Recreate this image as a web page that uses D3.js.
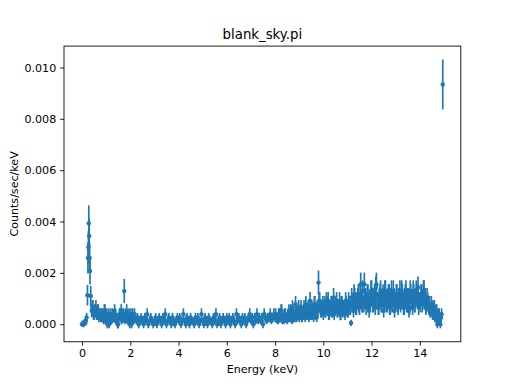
<!DOCTYPE html>
<html><head><meta charset="utf-8">
<script src="https://cdn.jsdelivr.net/npm/d3@7"></script>
<style>body{margin:0;background:#fff}svg{display:block}</style>
</head><body><svg id="c" width="512" height="384"></svg>
<script>
// Channel energies (keV) - main channels
const energy = [
 0.00,0.04,0.07,0.10,0.13,0.16,0.19,
 0.225,0.245,0.265,0.28,0.295,0.315,0.33,0.36,
 0.40,0.45,0.50,0.55,0.60,0.65,0.70,0.75,
 0.80,0.85,0.90,0.95,1.00,1.05,1.10,1.15,1.20,1.25,1.30,1.35,1.40,1.45,1.50,1.55,1.60,1.65,1.70,
 1.75,
 1.80,1.85,1.90,1.95,2.00,2.05,2.10,2.15,2.20,
 2.25,2.30,2.35,2.40,2.45,2.50,2.55,2.60,2.65,2.70,
 2.75,2.80,2.85,2.90,2.95,3.00,3.05,3.10,3.15,3.20,
 3.25,3.30,3.35,3.40,3.45,3.50,3.55,3.60,3.65,3.70,
 3.75,3.80,3.85,3.90,3.95,4.00,4.05,4.10,4.15,4.20,
 4.25,4.30,4.35,4.40,4.45,4.50,4.55,4.60,4.65,4.70,
 4.75,4.80,4.85,4.90,4.95,5.00,5.05,5.10,5.15,5.20,
 5.25,5.30,5.35,5.40,5.45,5.50,5.55,5.60,5.65,5.70,
 5.75,5.80,5.85,5.90,5.95,6.00,6.05,6.10,6.15,6.20,
 6.25,6.30,6.35,6.40,6.45,6.50,6.55,6.60,6.65,6.70,
 6.75,6.80,6.85,6.90,6.95,7.00,7.05,7.10,7.15,7.20,
 7.25,7.30,7.35,7.40,7.45,7.50,7.55,7.60,7.65,7.70,
 7.75,7.80,7.85,7.90,7.95,8.00,
 8.05,8.10,8.15,8.20,8.25,8.30,8.35,8.40,8.45,8.50,
 8.55,8.60,8.65,8.70,8.75,8.80,8.85,8.90,8.95,9.00,
 9.05,9.10,9.15,9.20,9.25,9.30,9.35,9.40,9.45,9.50,
 9.55,9.60,9.65,9.70,9.75,
 9.80,
 9.85,9.90,9.95,10.00,10.05,10.10,10.15,10.20,10.25,10.30,
 10.35,10.40,10.45,10.50,10.55,10.60,10.65,10.70,10.75,10.80,
 10.85,10.90,10.95,11.00,11.05,11.10,
 11.15,
 11.20,11.25,11.30,11.35,11.40,11.45,11.50,11.55,11.60,11.65,
 11.70,11.75,11.80,11.85,11.90,11.95,12.00,12.05,12.10,12.15,
 12.20,12.25,12.30,12.35,12.40,12.45,12.50,12.55,12.60,12.65,
 12.70,12.75,12.80,12.85,12.90,12.95,13.00,13.05,13.10,13.15,
 13.20,13.25,13.30,13.35,13.40,13.45,13.50,13.55,13.60,13.65,
 13.70,13.75,13.80,13.85,13.90,13.95,14.00,14.05,14.10,14.15,
 14.20,14.25,14.30,14.35,
 14.40,14.45,14.50,14.55,14.60,14.65,14.70,14.75,14.80,14.85,14.90,
 14.95
];
// Rate, counts/sec/keV, in units of 1e-4
const rateE4 = [
 0.0,0.5,0.0,1.0,0.4,1.3,2.6,
 11.3,25.8,30.0,39.3,34.4,25.8,20.7,11.0,
 5.2,6.5,3.9,5.2,3.9,5.2,2.6,3.9,
 2.6,3.9,1.3,5.2,2.6,0,3.9,2.6,1.3,3.9,2.6,5.2,1.3,2.6,0,3.9,2.6,1.3,3.9,
 12.9,
 2.6,5.2,1.3,3.9,2.6,0,3.9,1.3,2.6,
 1.3,2.6,0,1.3,2.6,1.3,0,2.6,1.3,3.9,
 0,1.3,2.6,1.3,0,1.3,2.6,0,1.3,2.6,
 1.3,0,2.6,1.3,3.9,0,1.3,2.6,1.3,0,
 2.6,1.3,0,1.3,2.6,1.3,2.6,0,1.3,3.9,
 1.3,0,2.6,1.3,0,2.6,1.3,1.3,0,2.6,
 1.3,2.6,0,1.3,3.9,1.3,0,2.6,1.3,0,
 2.6,1.3,1.3,0,2.6,1.3,3.9,0,1.3,2.6,
 0,1.3,2.6,1.3,0,2.6,1.3,2.6,0,1.3,
 2.6,1.3,0,3.9,1.3,2.6,1.3,0,2.6,1.3,
 2.6,0,1.3,2.6,3.9,1.3,2.6,0,2.6,1.3,
 3.9,1.3,2.6,1.3,2.6,0,3.9,2.6,1.3,2.6,
 2.6,3.9,1.3,2.6,3.9,2.6,
 2.6,1.3,3.9,2.6,5.2,1.3,2.6,3.9,2.6,1.3,
 3.9,2.6,5.2,1.3,3.9,2.6,7.8,2.6,3.9,2.6,
 5.2,2.6,3.9,6.5,2.6,3.9,5.2,2.6,9.1,3.9,
 5.2,2.6,7.8,3.9,6.5,
 16.2,
 9.1,5.2,6.5,3.9,7.8,5.2,6.5,9.1,3.9,6.5,
 5.2,7.8,3.9,6.5,9.1,5.2,6.5,3.9,7.8,5.2,
 6.5,3.9,7.8,5.2,9.1,6.5,
 0.5,
 7.8,5.2,10.4,6.5,9.1,11.7,6.5,15.6,7.8,7.8,
 15.6,10.4,7.8,11.7,5.2,9.1,13.0,7.8,10.4,6.5,
 15.6,9.1,6.5,11.7,7.8,10.4,5.2,13.0,9.1,7.8,
 11.7,6.5,10.4,7.8,13.0,5.2,9.1,11.7,6.5,10.4,
 7.8,13.0,9.1,6.5,11.7,7.8,10.4,5.2,13.0,9.1,
 6.5,11.7,7.8,13.0,10.4,6.5,9.1,11.7,7.8,13.0,
 9.1,6.5,10.4,7.8,
 7.8,5.2,6.5,3.9,6.5,2.6,5.2,1.3,3.9,0,3.9,
 93.4
];
// 1-sigma error, counts/sec/keV, in units of 1e-4
const errE4 = [
 1.0,0.9,1.2,1.1,1.0,1.0,1.8,
 4.0,6.0,6.3,7.0,6.7,5.9,5.2,3.9,
 2.6,2.9,2.3,2.6,2.3,2.6,1.8,2.3,
 1.8,2.3,1.3,2.6,1.8,1.6,2.3,1.8,1.3,2.3,1.8,2.6,1.3,1.8,1.6,2.3,1.8,1.3,2.3,
 4.7,
 1.8,2.6,1.3,2.3,1.8,1.6,2.3,1.3,1.8,
 1.3,1.8,1.6,1.3,1.8,1.3,1.6,1.8,1.3,2.3,
 1.6,1.3,1.8,1.3,1.6,1.3,1.8,1.6,1.3,1.8,
 1.3,1.6,1.8,1.3,2.3,1.6,1.3,1.8,1.3,1.6,
 1.8,1.3,1.6,1.3,1.8,1.3,1.8,1.6,1.3,2.3,
 1.3,1.6,1.8,1.3,1.6,1.8,1.3,1.3,1.6,1.8,
 1.3,1.8,1.6,1.3,2.3,1.3,1.6,1.8,1.3,1.6,
 1.8,1.3,1.3,1.6,1.8,1.3,2.3,1.6,1.3,1.8,
 1.6,1.3,1.8,1.3,1.6,1.8,1.3,1.8,1.6,1.3,
 1.8,1.3,1.6,2.3,1.3,1.8,1.3,1.6,1.8,1.3,
 1.8,1.6,1.3,1.8,2.3,1.3,1.8,1.6,1.8,1.3,
 2.3,1.3,1.8,1.3,1.8,1.6,2.3,1.8,1.3,1.8,
 1.8,2.3,1.3,1.8,2.3,1.8,
 1.8,1.3,2.3,1.8,2.6,1.3,1.8,2.3,1.8,1.3,
 2.3,1.8,2.6,1.3,2.3,1.8,3.2,1.8,2.3,1.8,
 2.6,1.8,2.3,2.9,1.8,2.3,2.6,1.8,3.4,2.3,
 2.6,1.8,3.2,2.3,2.9,
 4.7,
 3.4,2.6,2.9,2.3,3.2,2.6,2.9,3.4,2.3,2.9,
 2.6,3.2,2.3,2.9,3.4,2.6,2.9,2.3,3.2,2.6,
 2.9,2.3,3.2,2.6,3.4,2.9,
 1.2,
 3.2,2.6,3.7,2.9,3.4,3.9,2.9,4.5,3.2,3.2,
 4.5,3.7,3.2,3.9,2.6,3.4,4.1,3.2,3.7,2.9,
 4.5,3.4,2.9,3.9,3.2,3.7,2.6,4.1,3.4,3.2,
 3.9,2.9,3.7,3.2,4.1,2.6,3.4,3.9,2.9,3.7,
 3.2,4.1,3.4,2.9,3.9,3.2,3.7,2.6,4.1,3.4,
 2.9,3.9,3.2,4.1,3.7,2.9,3.4,3.9,3.2,4.1,
 3.4,2.9,3.7,3.2,
 3.2,2.6,2.9,2.3,2.9,1.8,2.6,1.3,2.3,1.6,2.3,
 9.7
];
// Interleaved channels (keV)
const energy2 = [
 0.425,0.475,0.525,0.575,0.625,0.675,0.725,0.775,
 0.825,0.875,0.925,0.975,1.025,1.075,1.125,1.175,1.225,1.275,
 1.325,1.375,1.425,1.475,1.525,1.575,1.625,1.675,1.725,1.775,
 1.825,1.875,1.925,1.975,2.025,2.075,2.125,2.175,
 8.025,8.075,8.125,8.175,8.225,8.275,8.325,8.375,8.425,8.475,
 8.525,8.575,8.625,8.675,8.725,8.775,8.825,8.875,8.925,8.975,
 9.025,9.075,9.125,9.175,9.225,9.275,9.325,9.375,9.425,9.475,
 9.525,9.575,9.625,9.675,9.725,9.775,9.825,9.875,9.925,9.975,
 10.025,10.075,10.125,10.175,10.225,10.275,10.325,10.375,10.425,10.475,
 10.525,10.575,10.625,10.675,10.725,10.775,10.825,10.875,10.925,10.975,
 11.025,11.075,11.125,11.175,11.225,11.275,11.325,11.375,11.425,11.475,
 11.525,11.575,11.625,11.675,11.725,11.775,11.825,11.875,11.925,11.975,
 12.025,12.075,12.125,12.175,12.225,12.275,12.325,12.375,12.425,12.475,
 12.525,12.575,12.625,12.675,12.725,12.775,12.825,12.875,12.925,12.975,
 13.025,13.075,13.125,13.175,13.225,13.275,13.325,13.375,13.425,13.475,
 13.525,13.575,13.625,13.675,13.725,13.775,13.825,13.875,13.925,13.975,
 14.025,14.075,14.125,14.175,14.225,14.275,14.325,14.375,
 14.425,14.475,14.525,14.575,14.625,14.675,14.725,14.775,14.825,14.875
];
const rate2E4 = [
 6.5,3.9,5.2,6.5,3.9,5.2,3.9,2.6,
 3.9,2.6,5.2,1.3,3.9,2.6,0,3.9,1.3,2.6,
 2.6,3.9,1.3,0,2.6,3.9,5.2,2.6,3.9,1.3,
 3.9,1.3,2.6,0,3.9,1.3,2.6,3.9,
 3.9,2.6,1.3,3.9,2.6,5.2,2.6,1.3,3.9,2.6,
 2.6,5.2,3.9,2.6,6.5,3.9,2.6,5.2,3.9,6.5,
 3.9,6.5,2.6,5.2,3.9,7.8,3.9,6.5,5.2,3.9,
 6.5,3.9,7.8,5.2,2.6,5.2,9.1,6.5,5.2,7.8,
 6.5,5.2,9.1,7.8,3.9,6.5,7.8,5.2,10.4,6.5,
 7.8,5.2,6.5,9.1,3.9,7.8,6.5,5.2,9.1,6.5,
 5.2,7.8,6.5,10.4,7.8,11.7,9.1,6.5,10.4,7.8,
 11.7,9.1,13.0,7.8,10.4,6.5,11.7,9.1,7.8,13.0,
 10.4,7.8,11.7,14.3,9.1,6.5,10.4,13.0,7.8,11.7,
 9.1,13.0,7.8,10.4,11.7,6.5,13.0,9.1,10.4,7.8,
 11.7,7.8,10.4,13.0,9.1,11.7,6.5,10.4,13.0,7.8,
 10.4,6.5,11.7,9.1,13.0,7.8,10.4,11.7,14.3,9.1,
 7.8,11.7,9.1,13.0,10.4,7.8,9.1,6.5,
 5.2,7.8,3.9,6.5,2.6,5.2,0,3.9,1.3,2.6
];
const err2E4 = [
 2.9,2.3,2.6,2.9,2.3,2.6,2.3,1.8,
 2.3,1.8,2.6,1.3,2.3,1.8,1.6,2.3,1.3,1.8,
 1.8,2.3,1.3,1.6,1.8,2.3,2.6,1.8,2.3,1.3,
 2.3,1.3,1.8,1.6,2.3,1.3,1.8,2.3,
 2.3,1.8,1.3,2.3,1.8,2.6,1.8,1.3,2.3,1.8,
 1.8,2.6,2.3,1.8,2.9,2.3,1.8,2.6,2.3,2.9,
 2.3,2.9,1.8,2.6,2.3,3.2,2.3,2.9,2.6,2.3,
 2.9,2.3,3.2,2.6,1.8,2.6,3.4,2.9,2.6,3.2,
 2.9,2.6,3.4,3.2,2.3,2.9,3.2,2.6,3.7,2.9,
 3.2,2.6,2.9,3.4,2.3,3.2,2.9,2.6,3.4,2.9,
 2.6,3.2,2.9,3.7,3.2,3.9,3.4,2.9,3.7,3.2,
 3.9,3.4,4.1,3.2,3.7,2.9,3.9,3.4,3.2,4.1,
 3.7,3.2,3.9,4.3,3.4,2.9,3.7,4.1,3.2,3.9,
 3.4,4.1,3.2,3.7,3.9,2.9,4.1,3.4,3.7,3.2,
 3.9,3.2,3.7,4.1,3.4,3.9,2.9,3.7,4.1,3.2,
 3.7,2.9,3.9,3.4,4.1,3.2,3.7,3.9,4.3,3.4,
 3.2,3.9,3.4,4.1,3.7,3.2,3.4,2.9,
 2.6,3.2,2.3,2.9,1.8,2.6,1.6,2.3,1.3,1.8
];
const xTicks = [0,2,4,6,8,10,12,14];
const yTicks = [0.000,0.002,0.004,0.006,0.008,0.010];
const title = "blank_sky.pi";
const xLabel = "Energy (keV)";
const yLabel = "Counts/sec/keV";

if (energy.length !== rateE4.length || energy.length !== errE4.length)
  console.error("length mismatch 1", energy.length, rateE4.length, errE4.length);
if (energy2.length !== rate2E4.length || energy2.length !== err2E4.length)
  console.error("length mismatch 2", energy2.length, rate2E4.length, err2E4.length);

const data = energy.map((e,i)=>({e, v: rateE4[i]*1e-4, s: errE4[i]*1e-4}))
  .concat(energy2.map((e,i)=>({e, v: rate2E4[i]*1e-4, s: err2E4[i]*1e-4})))
  .sort((a,b)=>a.e-b.e);

const W=512,H=384;
const L=64, R=460.8, T=46.08, B=341.76;
const color="#1f77b4";
const font="DejaVu Sans, sans-serif";

function padded(lo,hi){const r=hi-lo;return [lo-0.05*r, hi+0.05*r];}
const xExt=d3.extent(data,d=>d.e);
const yLo=d3.min(data,d=>d.v-d.s), yHi=d3.max(data,d=>d.v+d.s);
const x=d3.scaleLinear().domain(padded(xExt[0],xExt[1])).range([L,R]);
const y=d3.scaleLinear().domain(padded(yLo,yHi)).range([B,T]);

const svg=d3.select("#c");
svg.append("rect").attr("width",W).attr("height",H).attr("fill","#fff");

const g=svg.append("g");
g.selectAll("line.eb").data(data).join("line").attr("class","eb")
 .attr("x1",d=>x(d.e)).attr("x2",d=>x(d.e))
 .attr("y1",d=>y(d.v-d.s)).attr("y2",d=>y(d.v+d.s))
 .attr("stroke",color).attr("stroke-width",1.67);
g.selectAll("circle").data(data).join("circle")
 .attr("cx",d=>x(d.e)).attr("cy",d=>y(d.v)).attr("r",2.2).attr("fill",color);

const tickLen=3.89;
const xa=svg.append("g").attr("transform",`translate(0,${B})`)
 .call(d3.axisBottom(x).tickValues(xTicks).tickFormat(d3.format("d")).tickSize(tickLen).tickPadding(3.89).tickSizeOuter(0));
const ya=svg.append("g").attr("transform",`translate(${L},0)`)
 .call(d3.axisLeft(y).tickValues(yTicks).tickFormat(d3.format(".3f")).tickSize(tickLen).tickPadding(3.89).tickSizeOuter(0));
[xa,ya].forEach(a=>{
  a.select(".domain").remove();
  a.selectAll("line").attr("stroke","#000").attr("stroke-width",0.89);
  a.selectAll("text").attr("fill","#000").style("font-family",font).style("font-size","11.1px");
});

svg.append("rect").attr("x",L).attr("y",T).attr("width",R-L).attr("height",B-T)
 .attr("fill","none").attr("stroke","#000").attr("stroke-width",0.89);

svg.append("text").attr("x",(L+R)/2).attr("y",39.4).attr("text-anchor","middle")
 .style("font-family",font).style("font-size","13.3px").text(title);
svg.append("text").attr("x",(L+R)/2).attr("y",372.5).attr("text-anchor","middle")
 .style("font-family",font).style("font-size","11.1px").text(xLabel);
svg.append("text").attr("transform",`translate(17.5,${(T+B)/2}) rotate(-90)`).attr("text-anchor","middle")
 .style("font-family",font).style("font-size","11.1px").text(yLabel);
</script></body></html>
